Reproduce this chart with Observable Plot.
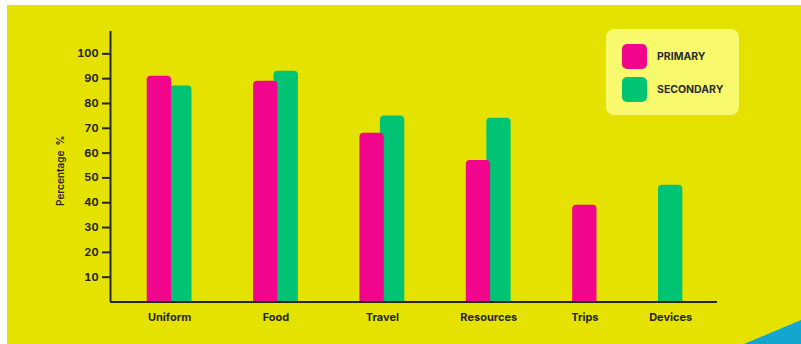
<!DOCTYPE html>
<html>
<head>
<meta charset="utf-8">
<script src="https://cdn.jsdelivr.net/npm/d3@7"></script>
<script src="https://cdn.jsdelivr.net/npm/@observablehq/plot@0.6"></script>
<style>
  html, body { margin: 0; padding: 0; background: #ffffff; }
  #wrap { position: relative; width: 801px; height: 344px; overflow: hidden; background: #ffffff; font-family: Inter, "Open Sans", sans-serif; }
  #bg { position: absolute; left: 7px; top: 5px; right: 0; bottom: 0; background: #e6e200; }
  #tri { position: absolute; left: 744px; top: 320px; width: 57px; height: 24px; background: #14a6cf; clip-path: polygon(0 100%, 100% 0, 100% 100%); }
  #chart { position: absolute; left: 0; top: 0; }
  #legend { position: absolute; left: 606px; top: 29px; width: 133px; height: 86px; background: #f9f96e; border-radius: 8px; }
  .sw { position: absolute; left: 16px; width: 25px; height: 25px; border-radius: 5px; }
  .lt { position: absolute; left: 51px; font-size: 10.5px; font-weight: 700; color: #2b2b2b; line-height: 12px; }
</style>
</head>
<body>
<div id="wrap">
  <div id="bg"></div>
  <div id="tri"></div>
  <div id="chart"></div>
  <div id="legend"></div>
</div>
<script>
// ---- data ----
const categories = ["Uniform", "Food", "Travel", "Resources", "Trips", "Devices"];
const seriesNames = ["PRIMARY", "SECONDARY"];
const primary   = [91, 89, 68, 57, 39, null];
const secondary = [87, 93, 75, 74, null, 47];
const yTicks = [10, 20, 30, 40, 50, 60, 70, 80, 90, 100];
const seriesColors = ["#f0058c", "#00c474"];

// ---- layout (bars of present series packed per group, constant gap between groups) ----
const BAR_STEP = 1, BAR_W = 1.185, GAP = 3.0;
const values = [primary, secondary];
const bars = [];
const centers = [];
let pos = 0;
categories.forEach((cat, i) => {
  const present = seriesNames.map((s, k) => ({s, k, v: values[k][i]})).filter(d => d.v != null);
  present.forEach((d, j) => {
    bars.push({category: cat, series: d.s, order: d.k, value: d.v, x1: pos + j * BAR_STEP, x2: pos + j * BAR_STEP + BAR_W});
  });
  const end = pos + (present.length - 1) * BAR_STEP + BAR_W;
  centers.push({category: cat, x: (pos + end) / 2});
  pos = end + GAP;
});
const total = pos - GAP;
bars.sort((a, b) => b.order - a.order); // secondary drawn first, primary on top

const ink = "#262626";
const chart = Plot.plot({
  width: 801,
  height: 344,
  marginLeft: 110,
  marginRight: 84,
  marginTop: 31,
  marginBottom: 42.5,
  style: {background: "transparent", fontFamily: "Inter, 'Open Sans', sans-serif"},
  x: {type: "linear", domain: [-1.79, total + 1.69], axis: null},
  y: {domain: [0, 109], axis: null},
  color: {domain: seriesNames, range: seriesColors},
  marks: [
    // rounded rects extended below the baseline and clipped to the frame: only the top corners stay rounded
    Plot.rect(bars, {x1: "x1", x2: "x2", y1: -3, y2: "value", fill: "series", rx: 4, clip: true}),
    Plot.ruleY([0], {stroke: ink, strokeWidth: 2}),
    Plot.ruleX([-1.79], {y1: 0, y2: 109, stroke: ink, strokeWidth: 2}),
    Plot.axisY({ticks: yTicks, tickSize: 8, tickPadding: 4, strokeWidth: 2, stroke: ink, fill: ink, fontSize: 11, fontWeight: 700, label: null}),
    Plot.axisX({ticks: centers.map(d => d.x), tickFormat: (d) => centers.find(c => c.x === d).category, tickSize: 0, tickPadding: 11, fill: ink, fontSize: 11, fontWeight: 700, label: null}),
    Plot.text(["Percentage\u00a0\u00a0%"], {frameAnchor: "left", textAnchor: "middle", dx: -50, dy: 4, rotate: -90, fontSize: 10, fontWeight: 600, fill: ink})
  ]
});
document.getElementById("chart").appendChild(chart);

// ---- legend ----
const legend = document.getElementById("legend");
seriesNames.forEach((name, i) => {
  const sw = document.createElement("div");
  sw.className = "sw";
  sw.style.top = (15 + i * 33.3) + "px";
  sw.style.background = seriesColors[i];
  legend.appendChild(sw);
  const t = document.createElement("div");
  t.className = "lt";
  t.style.top = (22 + i * 33.3) + "px";
  t.textContent = name;
  legend.appendChild(t);
});
</script>
</body>
</html>
